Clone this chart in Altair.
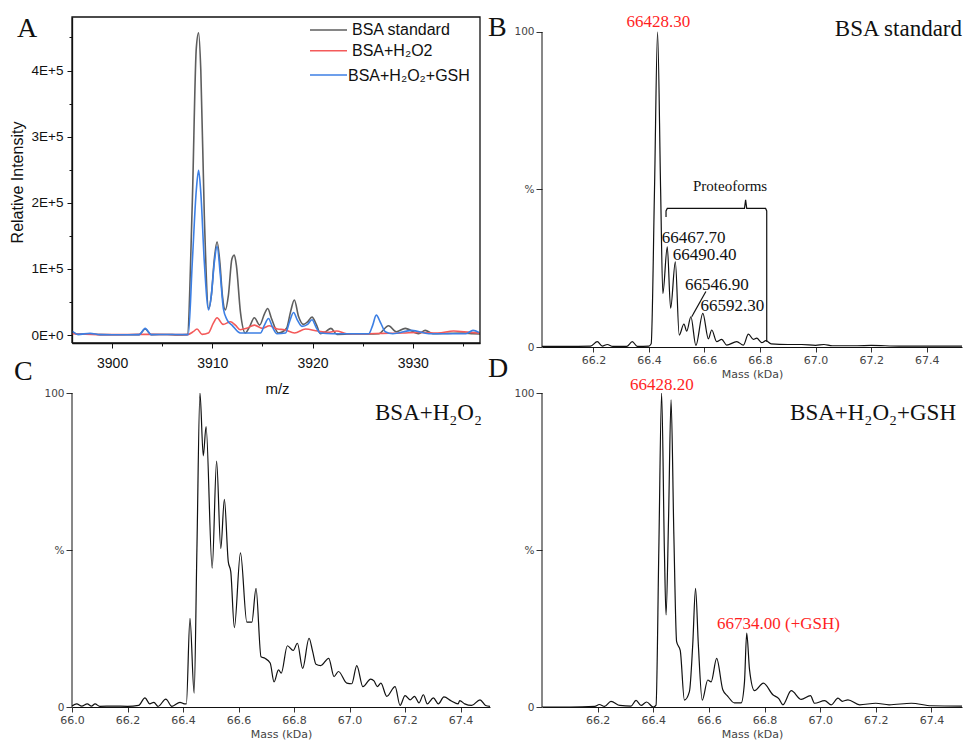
import altair as alt
import pandas as pd

SERIF = "Liberation Serif"
SANS = "Liberation Sans"
AXF = "DejaVu Sans"
RED = "#ff1f1f"

# ---------------- Panel A: m/z spectra ----------------
a_series = ["BSA standard", "BSA+H\u2082O2", "BSA+H\u2082O\u2082+GSH"]
a_colors = ["#5e5e5e", "#f45a5a", "#3c7fe4"]
a_x_ticks = [3900, 3905, 3910, 3915, 3920, 3925, 3930, 3935]
a_y_ticks = [0, 50000, 100000, 150000, 200000, 250000, 300000, 350000, 400000, 450000]
a_x_range = [3896.0, 3936.7]
a_y_range = [-12100, 481000]

std_mz = [3896.0, 3896.6, 3897.8, 3898.8, 3900.0, 3901.5, 3902.7, 3903.3, 3903.9, 3905.5,
          3906.5, 3907.5, 3908.0, 3908.4, 3908.63, 3908.85, 3909.2, 3909.63, 3909.9, 3910.2,
          3910.47, 3910.75, 3911.0, 3911.3, 3911.6, 3911.95, 3912.19, 3912.4, 3912.8, 3913.29,
          3913.7, 3914.19, 3914.72, 3915.2, 3915.52, 3915.9, 3916.6, 3917.4, 3917.8, 3918.18,
          3918.6, 3919.1, 3919.5, 3919.94, 3920.4, 3920.77, 3921.3, 3921.83, 3922.43, 3924.0,
          3925.5, 3926.6, 3927.58, 3928.35, 3929.24, 3930.57, 3931.24, 3932.0, 3933.5, 3935.0,
          3936.0, 3936.7]
std_int = [5000, 1000, 2000, 500, 300, 300, 500, 9000, 500, 800,
           200, 500, 200000, 434000, 457000, 400000, 180000, 40000, 60000, 115000,
           141000, 110000, 60000, 38000, 60000, 115000, 121000, 105000, 35000, 3000,
           12000, 26000, 15000, 32000, 40000, 25000, 3000, 10000, 35000, 53000,
           28000, 16000, 20000, 27000, 15000, 2000, 5000, 10000, 1000, 1500,
           1500, 2000, 14000, 5000, 10000, 2000, 7000, 2000, 2500, 3000,
           2000, 1500]

h2o2_mz = [3896.0, 3898.0, 3900.0, 3903.3, 3907.5, 3908.1, 3908.47, 3908.97, 3909.6, 3910.1,
           3910.47, 3911.07, 3911.8, 3912.3, 3912.79, 3913.4, 3914.2, 3915.0, 3915.7, 3916.5,
           3917.2, 3918.2, 3919.3, 3920.5, 3921.5, 3922.4, 3923.4, 3925.0, 3927.0, 3929.0,
           3930.5, 3932.5, 3934.06, 3935.7, 3936.7]
h2o2_int = [2000, 1000, 500, 1000, 500, 5000, 9000, 1000, 3000, 18000,
            26000, 16000, 20000, 15000, 8000, 10000, 15000, 10000, 14000, 9000,
            8000, 3000, 9000, 6000, 4000, 6000, 2000, 2000, 2500, 3000,
            4000, 3000, 6000, 4000, 3000]

gsh_mz = [3896.0, 3896.6, 3897.8, 3898.8, 3900.0, 3902.7, 3903.3, 3903.9, 3905.5, 3907.6,
          3908.0, 3908.4, 3908.63, 3908.85, 3909.2, 3909.63, 3909.9, 3910.2, 3910.47, 3910.8,
          3911.1, 3911.47, 3911.96, 3912.8, 3914.8, 3915.2, 3915.6, 3916.0, 3916.45, 3917.3,
          3917.7, 3918.1, 3918.5, 3918.94, 3919.5, 3919.94, 3920.4, 3920.77, 3922.0, 3925.6,
          3926.0, 3926.35, 3926.8, 3927.25, 3928.0, 3929.9, 3931.6, 3935.3, 3936.0, 3936.6]
gsh_int = [6000, 1000, 2500, 500, 300, 500, 10000, 500, 800, 500,
           110000, 219000, 249000, 215000, 110000, 38000, 60000, 110000, 134000, 90000,
           40000, 23000, 15000, 3000, 3000, 15000, 25000, 12000, 2000, 3000,
           20000, 34000, 22000, 13000, 16000, 23000, 10000, 3000, 2000, 2000,
           15000, 30000, 18000, 5000, 2000, 7000, 2000, 2000, 7000, 4000]

# ---------------- Panel B: BSA standard deconvoluted ----------------
b_mass = [66.015, 66.10, 66.19, 66.214, 66.232, 66.25, 66.27, 66.32, 66.340, 66.358,
          66.400, 66.408, 66.420, 66.431, 66.442, 66.450, 66.466, 66.478, 66.495, 66.509,
          66.526, 66.536, 66.551, 66.569, 66.594, 66.614, 66.626, 66.644, 66.662, 66.680,
          66.716, 66.740, 66.758, 66.776, 66.788, 66.806, 66.821, 66.840, 66.900, 66.950,
          67.000, 67.030, 67.060, 67.150, 67.200, 67.300, 67.400, 67.527]
b_pct = [0.2, 0.2, 0.3, 1.7, 0.3, 0.8, 0.2, 0.2, 1.7, 0.2,
         0.3, 1.0, 50.0, 100.0, 50.0, 17.0, 31.8, 12.3, 27.0, 3.8,
         7.3, 5.0, 9.6, 0.5, 10.7, 2.6, 5.4, 1.7, 2.4, 0.6,
         1.7, 0.6, 4.1, 2.4, 2.8, 1.4, 2.0, 1.0, 0.8, 0.8,
         0.5, 0.8, 0.4, 0.4, 0.5, 0.3, 0.3, 0.3]
b_peak_text = ["66467.70", "66490.40", "66546.90", "66592.30"]
b_peak_mass = [66.446, 66.486, 66.530, 66.586]
b_peak_pct = [34.5, 29.2, 19.7, 13.1]
b_top_text = ["66428.30"]
b_top_mass = [66.434]
b_top_pct = [103.3]
b_group_text = ["Proteoforms"]
b_group_mass = [66.692]
b_group_pct = [51.1]
bracket_mass = [66.4615, 66.4615, 66.466, 66.744, 66.748, 66.752, 66.820, 66.824, 66.824]
bracket_pct = [41.3, 43.2, 44.0, 44.0, 46.7, 44.0, 44.0, 43.2, 1.7]
leader_mass = [66.605, 66.554]
leader_pct = [17.6, 9.6]

# ---------------- Panel C: BSA + H2O2 ----------------
c_mass = [66.000, 66.017, 66.035, 66.055, 66.070, 66.083, 66.100, 66.150, 66.200, 66.240,
          66.263, 66.280, 66.295, 66.310, 66.338, 66.360, 66.389, 66.405, 66.412, 66.425,
          66.440, 66.450, 66.461, 66.473, 66.483, 66.505, 66.521, 66.536, 66.549, 66.563,
          66.572, 66.585, 66.607, 66.630, 66.648, 66.663, 66.681, 66.695, 66.714, 66.728,
          66.744, 66.754, 66.776, 66.797, 66.812, 66.831, 66.854, 66.867, 66.879, 66.896,
          66.925, 66.944, 66.960, 66.990, 67.008, 67.026, 67.048, 67.076, 67.088, 67.100,
          67.113, 67.134, 67.164, 67.182, 67.200, 67.218, 67.234, 67.250, 67.266, 67.280,
          67.302, 67.320, 67.340, 67.367, 67.391, 67.397, 67.415, 67.440, 67.470, 67.490,
          67.506]
c_pct = [0.3, 1.0, 0.3, 1.0, 0.3, 1.0, 0.2, 0.3, 0.2, 0.5,
         2.9, 1.0, 1.5, 0.2, 2.5, 0.2, 1.5, 1.0, 1.0, 28.2,
         4.4, 50.0, 100.0, 80.0, 89.3, 44.2, 78.3, 50.5, 66.1, 46.3,
         43.1, 25.3, 49.1, 27.0, 27.0, 37.8, 16.0, 15.5, 14.0, 8.0,
         11.8, 10.8, 19.5, 18.0, 20.3, 12.3, 21.9, 17.7, 13.6, 13.2,
         15.5, 9.7, 11.3, 7.6, 7.4, 13.2, 6.5, 8.9, 8.3, 6.5,
         7.6, 3.4, 6.5, 0.5, 3.6, 2.3, 3.4, 1.3, 3.9, 1.0,
         2.9, 1.0, 3.2, 1.9, 1.0, 2.0, 1.0, 0.5, 2.3, 0.5,
         0.2]

# ---------------- Panel D: BSA + H2O2 + GSH ----------------
d_mass = [66.000, 66.100, 66.190, 66.206, 66.225, 66.248, 66.280, 66.320, 66.338, 66.356,
          66.376, 66.400, 66.410, 66.420, 66.430, 66.440, 66.446, 66.455, 66.464, 66.474,
          66.484, 66.497, 66.512, 66.530, 66.542, 66.552, 66.562, 66.576, 66.596, 66.608,
          66.628, 66.650, 66.668, 66.692, 66.716, 66.728, 66.736, 66.746, 66.764, 66.796,
          66.830, 66.852, 66.866, 66.896, 66.932, 66.965, 66.980, 67.016, 67.040, 67.064,
          67.080, 67.100, 67.142, 67.200, 67.248, 67.328, 67.400, 67.510]
d_pct = [0.0, 0.0, 0.2, 0.8, 0.2, 1.8, 0.5, 0.3, 2.1, 0.5,
         1.6, 0.0, 0.6, 50.0, 100.0, 50.0, 29.3, 60.0, 97.8, 55.0,
         20.8, 18.0, 2.2, 4.9, 20.0, 37.8, 20.0, 2.2, 8.6, 8.0,
         15.5, 5.5, 3.4, 1.3, 1.3, 8.0, 23.5, 12.0, 5.2, 7.6,
         3.9, 2.6, 0.7, 5.2, 2.4, 3.6, 1.2, 2.0, 0.7, 2.8,
         1.8, 2.3, 0.7, 1.2, 0.7, 1.2, 0.4, 0.3]
d_red_text = ["66428.20", "66734.00 (+GSH)"]
d_red_mass = [66.431, 66.850]
d_red_pct = [102.5, 26.4]

mass_ticks = [66.2, 66.4, 66.6, 66.8, 67.0, 67.2, 67.4]
mass_ticks_c = [66.0, 66.2, 66.4, 66.6, 66.8, 67.0, 67.2, 67.4]


def fixed_text(label, x, y, size, font, color="#111", align="left", baseline="alphabetic"):
    return alt.Chart(pd.DataFrame({"t": [label]})).mark_text(
        align=align, baseline=baseline, font=font, fontSize=size, color=color
    ).encode(text="t:N", x=alt.value(x), y=alt.value(y))


def fixed_rule(x1, x2, y1, y2, color, width):
    return alt.Chart(pd.DataFrame({"t": ["r"]})).mark_rule(color=color, strokeWidth=width).encode(
        x=alt.value(x1), x2=alt.value(x2), y=alt.value(y1), y2=alt.value(y2))


# ---------- build panel A ----------
A_W, A_H = 408, 326
xA = alt.X("mz:Q", scale=alt.Scale(domain=a_x_range, nice=False, zero=False),
           axis=alt.Axis(values=a_x_ticks,
                         labelExpr="datum.value % 10 == 0 ? format(datum.value, 'd') : ''",
                         tickSize={"condition": {"test": "datum.value % 10 != 0", "value": 3}, "value": 5},
                         labelFont=SANS, labelFontSize=14, labelColor="#111", labelPadding=8,
                         labelFlush=False, labelOverlap=False, tickColor="#111",
                         domain=True, domainColor="#111", domainWidth=1.3, grid=False,
                         title="m/z", titleFont=SANS, titleFontSize=15, titleFontWeight="normal",
                         titleColor="#111", titleX=205, titleY=45, titleBaseline="middle",
                         titleAlign="center"))
yA = alt.Y("intensity:Q", scale=alt.Scale(domain=a_y_range, nice=False, zero=False),
           axis=alt.Axis(values=a_y_ticks,
                         labelExpr="datum.value % 100000 == 0 ? (datum.value == 0 ? '0E+0' : format(datum.value / 100000, 'd') + 'E+5') : ''",
                         tickSize={"condition": {"test": "datum.value % 100000 != 0", "value": 3}, "value": 5},
                         labelFont=SANS, labelFontSize=13.5, labelColor="#111", labelPadding=4,
                         labelOverlap=False, labelFlush=False, tickColor="#111",
                         domain=True, domainColor="#111", domainWidth=1.3, grid=False,
                         title="Relative Intensity", titleFont=SANS, titleFontSize=16,
                         titleFontWeight="normal", titleColor="#111", titleX=-55, titleY=165,
                         titleAngle=270, titleBaseline="middle", titleAlign="center"))

a_layers = []
for name, mz, inten, col in zip(a_series, [std_mz, h2o2_mz, gsh_mz],
                                [std_int, h2o2_int, gsh_int], a_colors):
    df = pd.DataFrame({"mz": mz, "intensity": inten})
    a_layers.append(alt.Chart(df).mark_line(interpolate="monotone", strokeWidth=1.6,
                                            color=col, clip=True).encode(x=xA, y=yA))

# frame around panel A: a closed path along the plot's own limits
x0, x1 = a_x_range
y0, y1 = a_y_range
frame_df = pd.DataFrame({
    "mz": [x0, x1, x1, x0, x0],
    "intensity": [y0, y0, y1, y1, y0],
    "k": [0, 1, 2, 3, 4],
})
a_layers.append(alt.Chart(frame_df).mark_line(color="#111", strokeWidth=1.3).encode(
    x=xA, y=yA, order="k:Q"))

legend_y_line = [13, 33.7, 58]
legend_y_text = [13, 34, 59]
legend_x_text = [280, 280, 276]
for name, col, yl, yt, xt in zip(a_series, a_colors, legend_y_line, legend_y_text, legend_x_text):
    a_layers.append(fixed_rule(238, 275, yl, yl, col, 1.6))
    a_layers.append(fixed_text(name, xt, yt, 16, SANS, baseline="middle"))
a_layers.append(fixed_text("A", -55, 20, 28, SERIF))

panelA = alt.layer(*a_layers).properties(width=A_W, height=A_H)


# ---------- mass panels ----------
def mass_enc(domain_x, xticks, ymax):
    x = alt.X("mass:Q", scale=alt.Scale(domain=domain_x, nice=False, zero=False),
              axis=alt.Axis(values=xticks, format=".1f", title="Mass (kDa)", titleFont=AXF,
                            titleFontSize=11, titleFontWeight="normal", titleColor="#444",
                            titleY=27, titleBaseline="middle",
                            labelFont=AXF, labelFontSize=11, labelColor="#444", labelPadding=2,
                            labelFlush=False, labelOverlap=False, tickSize=5, tickColor="#333",
                            domainColor="#111", domainWidth=1, grid=False))
    y = alt.Y("pct:Q", scale=alt.Scale(domain=[0, ymax], nice=False, zero=False),
              axis=alt.Axis(values=[0, 50, 100], labelExpr="datum.value == 50 ? '%' : datum.label",
                            title=None, domain=False, tickSize=6, tickColor="#333", labelPadding=2,
                            labelFont=AXF, labelFontSize=10.5, labelColor="#444", grid=False))
    return x, y


def spectrum_layers(mass, pct, x, y):
    line = alt.Chart(pd.DataFrame({"mass": mass, "pct": pct})).mark_line(
        interpolate="monotone", color="#111", strokeWidth=1.2, clip=True).encode(x=x, y=y)
    axis_line = alt.Chart(pd.DataFrame({"pct": [0], "pct2": [100]})).mark_rule(
        color="#111", strokeWidth=1).encode(x=alt.value(0), y=y, y2="pct2:Q")
    return [axis_line, line]


def data_text(texts, masses, pcts, x, y, size, color="#111", align="left"):
    df = pd.DataFrame({"mass": masses, "pct": pcts, "label": texts})
    return alt.Chart(df).mark_text(align=align, baseline="middle", font=SERIF, fontSize=size,
                                   color=color).encode(x=x, y=y, text="label:N")


def path_line(masses, pcts, x, y):
    df = pd.DataFrame({"mass": masses, "pct": pcts, "k": list(range(len(masses)))})
    return alt.Chart(df).mark_line(color="#111", strokeWidth=1.2).encode(x=x, y=y, order="k:Q")


# Panel B
xB, yB = mass_enc([66.015, 67.527], mass_ticks, 104.76)
b_layers = spectrum_layers(b_mass, b_pct, xB, yB)
b_layers += [
    path_line(bracket_mass, bracket_pct, xB, yB),
    path_line(leader_mass, leader_pct, xB, yB),
    data_text(b_peak_text, b_peak_mass, b_peak_pct, xB, yB, 17),
    data_text(b_group_text, b_group_mass, b_group_pct, xB, yB, 15, align="center"),
    data_text(b_top_text, b_top_mass, b_top_pct, xB, yB, 17, color=RED, align="center"),
    fixed_text("BSA standard", 420, 19, 23, SERIF, align="right"),
    fixed_text("B", -54, 19, 28, SERIF),
]
panelB = alt.layer(*b_layers).properties(width=420, height=330)

# Panel C
xC, yC = mass_enc([66.0, 67.506], mass_ticks_c, 100)
c_layers = spectrum_layers(c_mass, c_pct, xC, yC)
c_layers += [
    fixed_text("BSA+H\u2082O\u2082", 410, 27, 23, SERIF, align="right"),
    fixed_text("C", -58, -13, 28, SERIF),
]
panelC = alt.layer(*c_layers).properties(width=418, height=314)

# Panel D
xD, yD = mass_enc([66.0, 67.51], mass_ticks, 100)
d_layers = spectrum_layers(d_mass, d_pct, xD, yD)
d_layers += [
    data_text(d_red_text, d_red_mass, d_red_pct, xD, yD, 17, color=RED, align="center"),
    fixed_text("BSA+H\u2082O\u2082+GSH", 414, 27, 23, SERIF, align="right"),
    fixed_text("D", -54, -16, 28, SERIF),
]
panelD = alt.layer(*d_layers).properties(width=420, height=314)

chart = alt.concat(panelA, panelB, panelC, panelD, columns=2,
                   spacing={"row": 46, "column": 52}, bounds="flush").properties(
    autosize=alt.AutoSizeParams(type="none"),
    padding={"left": 72, "top": 17, "right": 892, "bottom": 723},
).configure(background="white").configure_view(stroke=None)

chart.save("out.html", embed_options={"renderer": "svg", "actions": False})
